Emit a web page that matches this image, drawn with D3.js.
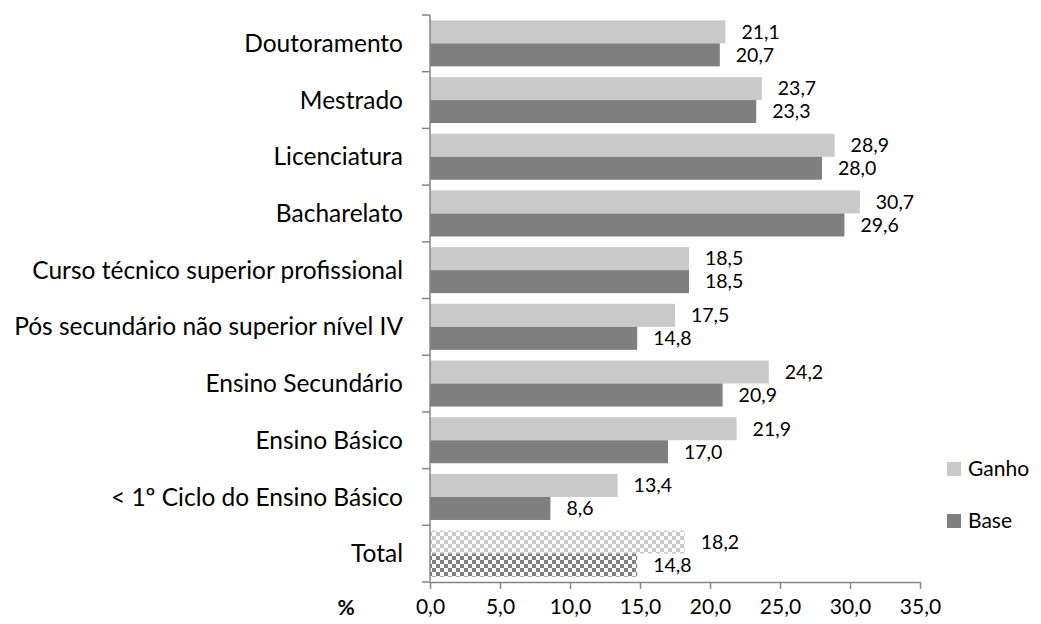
<!DOCTYPE html>
<html><head><meta charset="utf-8">
<script src="https://cdn.jsdelivr.net/npm/d3@7"></script>
<style>body{margin:0;background:#fff}svg{display:block}</style>
</head><body>
<svg id="c" width="1041" height="624"></svg>
<script>
const categories = ["Doutoramento","Mestrado","Licenciatura","Bacharelato","Curso técnico superior profissional","Pós secundário não superior nível IV","Ensino Secundário","Ensino Básico","< 1º Ciclo do Ensino Básico","Total"];
const ganho = [21.1,23.7,28.9,30.7,18.5,17.5,24.2,21.9,13.4,18.2];
const base  = [20.7,23.3,28.0,29.6,18.5,14.8,20.9,17.0,8.6,14.8];
const seriesNames = ["Ganho","Base"];
const xTicks = [0,5,10,15,20,25,30,35];

const font = "Lato, 'Open Sans', sans-serif";
const svg = d3.select("#c");
const mLeft = 430, mRight = 920, mTop = 15, mBottom = 582;
const colG = "#c9c9c9", colB = "#7f7f7f", axisCol = "#868686";

const defs = svg.append("defs");
function checker(id, c){
  const p = defs.append("pattern").attr("id", id).attr("patternUnits","userSpaceOnUse").attr("width",8).attr("height",8);
  p.append("rect").attr("width",8).attr("height",8).attr("fill","#fff");
  p.append("rect").attr("width",4).attr("height",4).attr("fill",c);
  p.append("rect").attr("x",4).attr("y",4).attr("width",4).attr("height",4).attr("fill",c);
}
checker("chkG", colG); checker("chkB", colB);

const x = d3.scaleLinear().domain([0,35]).range([mLeft,mRight]);
const y = d3.scaleBand().domain(categories).range([mTop,mBottom]).paddingInner(0).paddingOuter(0);
const bh = 23;
const fmt = v => v.toFixed(1).replace(".", ",");

const g = svg.append("g");
categories.forEach((c,i)=>{
  const y0 = y(c) + (y.bandwidth() - 2*bh)/2;
  const isTotal = c === "Total";
  g.append("rect").attr("x", x(0)).attr("y", y0).attr("width", x(ganho[i]) - x(0)).attr("height", bh)
    .attr("fill", isTotal ? "url(#chkG)" : colG);
  g.append("rect").attr("x", x(0)).attr("y", y0+bh).attr("width", x(base[i]) - x(0)).attr("height", bh)
    .attr("fill", isTotal ? "url(#chkB)" : colB);
  g.append("text").attr("x", x(ganho[i]) + 16).attr("y", y0 + bh/2).attr("dy","0.35em")
    .attr("font-family", font).attr("font-size", 19.5).attr("fill","#000").text(fmt(ganho[i]));
  g.append("text").attr("x", x(base[i]) + 16).attr("y", y0 + bh*1.5).attr("dy","0.35em")
    .attr("font-family", font).attr("font-size", 19.5).attr("fill","#000").text(fmt(base[i]));
});

// X axis
const xAxis = d3.axisBottom(x).tickValues(xTicks).tickSize(7).tickSizeOuter(0).tickFormat(fmt);
const xa = svg.append("g").attr("transform", `translate(0,${mBottom})`).call(xAxis);
xa.select(".domain").attr("stroke", axisCol).attr("stroke-width", 1.5);
xa.selectAll(".tick line").attr("stroke", axisCol).attr("stroke-width", 1.5);
xa.selectAll(".tick text").attr("font-family", font).attr("font-size", 21).attr("fill","#000").attr("y", 17);

// Y axis
const ya = svg.append("g").attr("transform", `translate(${mLeft},0)`);
ya.append("line").attr("x1",0).attr("x2",0).attr("y1",mTop).attr("y2",mBottom).attr("stroke",axisCol).attr("stroke-width",1.5);
const bounds = categories.map(c=>y(c)).concat([mBottom]);
ya.selectAll("line.t").data(bounds).enter().append("line").attr("class","t")
  .attr("x1",-8).attr("x2",0).attr("y1",d=>d).attr("y2",d=>d).attr("stroke",axisCol).attr("stroke-width",1.5);
ya.selectAll("text").data(categories).enter().append("text")
  .attr("x", -27).attr("y", d=>y(d)+y.bandwidth()/2).attr("dy","0.35em").attr("text-anchor","end")
  .attr("font-family", font).attr("font-size", 24.5).attr("fill","#000").text(d=>d);

// % label
svg.append("text").attr("x", 346).attr("y", 608).attr("dy","0.35em").attr("text-anchor","middle")
  .attr("font-family", font).attr("font-size", 21).attr("font-weight","bold").text("%");

// Legend
const lg = svg.append("g");
seriesNames.forEach((s,i)=>{
  const ly = 469 + i*52;
  lg.append("rect").attr("x", 947).attr("y", ly-7).attr("width", 14).attr("height", 14).attr("fill", i===0?colG:colB);
  lg.append("text").attr("x", 968).attr("y", ly).attr("dy","0.35em").attr("font-family", font).attr("font-size", 21).text(s);
});
</script>
</body></html>
